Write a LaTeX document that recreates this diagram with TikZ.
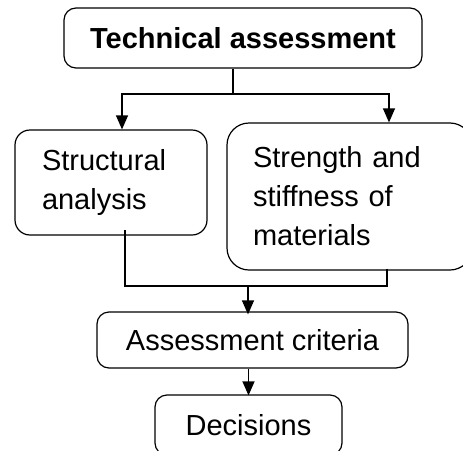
\documentclass[tikz,border=0pt]{standalone}
\usepackage{fontspec}
\setmainfont{Liberation Sans}
\usetikzlibrary{arrows.meta}

\begin{document}
\begin{tikzpicture}[x=1pt, y=-1pt,
    boxStyle/.style={draw, line width=1.2pt, rounded corners=12pt, inner ysep=0pt, font=\fontsize{29}{39}\selectfont},
    arrowStyle/.style={line width=1.2pt, -{Triangle[length=14pt, width=12pt]}},
    lineStyle/.style={line width=1.2pt}]
                    \useasboundingbox (0,0) rectangle (463,450);

                    \node[boxStyle, minimum width=358pt, minimum height=60pt, inner xsep=0pt, font=\fontsize{29}{39}\selectfont\bfseries](tech) at (243, 38) {Technical assessment};
                    \node[boxStyle, rounded corners=15pt, minimum height=105pt, inner xsep=27pt, text width=138pt, align=left](struct) at (111, 182.5) {Structural\\analysis};
                    \node[boxStyle, rounded corners=22pt, minimum height=147pt, inner xsep=26pt, text width=193pt, align=left](strength) at (349.5, 196.5) {Strength and\\stiffness of\\materials};
                    \node[boxStyle, minimum width=311pt, minimum height=56pt, inner xsep=0pt](crit) at (252.5, 340) {Assessment criteria};
                    \node[boxStyle, minimum width=187pt, minimum height=60pt, inner xsep=0pt](dec) at (248.5, 425) {Decisions};

                    % split below the title
                    \coordinate (split) at (233, 94);
                    \draw[lineStyle] ([xshift=-10pt]tech.south) -- (split);
                    \draw[arrowStyle] (split) -| ([xshift=11pt]struct.north);
                    \draw[arrowStyle] (split) -| ([xshift=39.5pt]strength.north);

                    % merge into the criteria
                    \coordinate (merge) at (248, 286);
                    \draw[lineStyle] ([xshift=14pt, yshift=6pt]struct.south) |- (merge);
                    \draw[lineStyle] ([xshift=37.5pt, yshift=2pt]strength.south) |- (merge);
                    \draw[arrowStyle] (merge) -- ([xshift=-4.5pt, yshift=-3pt]crit.north);
                    \draw[arrowStyle] ([xshift=-4pt]crit.south) -- ([yshift=-1pt]dec.north);
                \end{tikzpicture}
\end{document}
